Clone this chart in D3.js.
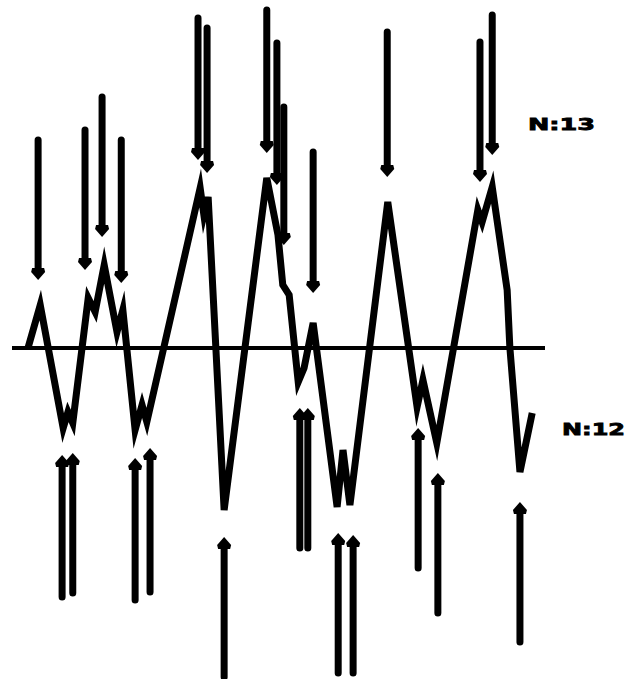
<!DOCTYPE html>
<html><head><meta charset="utf-8">
<script src="https://cdn.jsdelivr.net/npm/d3@7"></script>
<style>html,body{margin:0;padding:0;background:#fff;}svg{display:block;}</style>
</head><body>
<script>
// Trace: time (arbitrary units 0-100) and amplitude
const traceT = [3.0,5.3,9.6,10.5,11.4,14.3,15.6,17.3,19.7,20.8,23.1,24.4,25.3,35.3,36.0,36.8,39.8,47.8,49.9,50.8,52.0,53.7,54.8,56.5,61.0,62.1,63.4,70.5,76.0,77.1,79.7,87.4,88.2,90.1,92.9,93.4,95.3,97.6];
const traceV = [0,25.3,-47.1,-37.6,-44.1,29.4,21.2,48.8,9.4,22.4,-48.2,-33.5,-43.5,94.1,78.2,88.8,-95.3,100,66.5,37.1,31.2,-20,-11.8,14.7,-93.5,-60,-92.4,85.9,-34.7,-18.8,-55.9,81.2,74.1,94.7,34.1,0.6,-72.9,-38.2];
// Peak markers (downward arrows): time, tip amplitude, tail amplitude
const peakT    = [4.9,13.7,16.9,20.5,34.9,36.6,47.8,49.7,51.0,56.5,70.4,87.8,90.1];
const peakTip  = [40,45.9,65.3,38.2,110.6,102.9,114.7,95.9,60.6,32.4,100.6,97.6,113.5];
const peakTail = [122.4,128.2,147.6,122.4,194.1,188.2,198.8,179.4,141.8,115.3,185.9,180,195.9];
// Trough markers (upward arrows)
const troughT    = [9.4,11.4,23.1,25.9,39.8,54.0,55.5,61.2,64.0,76.2,79.9,95.3];
const troughTip  = [-62.9,-61.8,-64.7,-58.8,-111.2,-35.3,-35.3,-108.8,-110,-47.1,-73.5,-90.6];
const troughTail = [-146.5,-144.1,-148.2,-143.5,-193.5,-117.6,-117.6,-191.2,-191.2,-129.4,-155.9,-172.9];
const labels = ["N:13","N:12"];
const labelT = [96.8,103.2];
const labelV = [128.5,-51];

const W = 627, H = 679;
const svg = d3.select("body").append("svg").attr("width", W).attr("height", H);
const x = d3.scaleLinear().domain([0,100]).range([12,545]);
const y = d3.scaleLinear().domain([-100,100]).range([518,178]);

// baseline
svg.append("line").attr("x1", x(0)).attr("x2", x(100)).attr("y1", y(0)).attr("y2", y(0))
  .attr("stroke","#000").attr("stroke-width",4);

const pts = traceT.map((t,i)=>[t, traceV[i]]);
svg.append("path").datum(pts)
  .attr("d", d3.line().x(d=>x(d[0])).y(d=>y(d[1])))
  .attr("fill","none").attr("stroke","#000").attr("stroke-width",7)
  .attr("stroke-linejoin","miter").attr("stroke-miterlimit",6);

function arrows(T, tip, tail){
  const data = T.map((t,i)=>({t, tip: tip[i], tail: tail[i]}));
  const g = svg.append("g");
  data.forEach(d=>{
    const xs = x(d.t), yt = y(d.tip), yl = y(d.tail);
    const dir = yt > yl ? 1 : -1; // 1 = pointing down
    g.append("line").attr("x1", xs).attr("x2", xs).attr("y1", yl).attr("y2", yt - dir*8)
      .attr("stroke","#000").attr("stroke-width",7).attr("stroke-linecap","round");
    g.append("path")
      .attr("d", `M${xs},${yt} L${xs-7},${yt-dir*8} L${xs-6},${yt-dir*12} L${xs+6},${yt-dir*12} L${xs+7},${yt-dir*8} Z`)
      .attr("fill","#000");
  });
}
arrows(peakT, peakTip, peakTail);
arrows(troughT, troughTip, troughTail);

const widths = [67,63];
svg.selectAll("text.lab").data(labels).enter().append("text")
  .attr("class","lab")
  .attr("x",(d,i)=>x(labelT[i])).attr("y",(d,i)=>y(labelV[i]))
  .attr("font-family","'DejaVu Sans', sans-serif").attr("font-weight","bold")
  .attr("font-size",16).attr("fill","#000").attr("stroke","#000").attr("stroke-width",0.8)
  .attr("textLength",(d,i)=>widths[i]).attr("lengthAdjust","spacingAndGlyphs")
  .text(d=>d);
</script>
</body></html>
